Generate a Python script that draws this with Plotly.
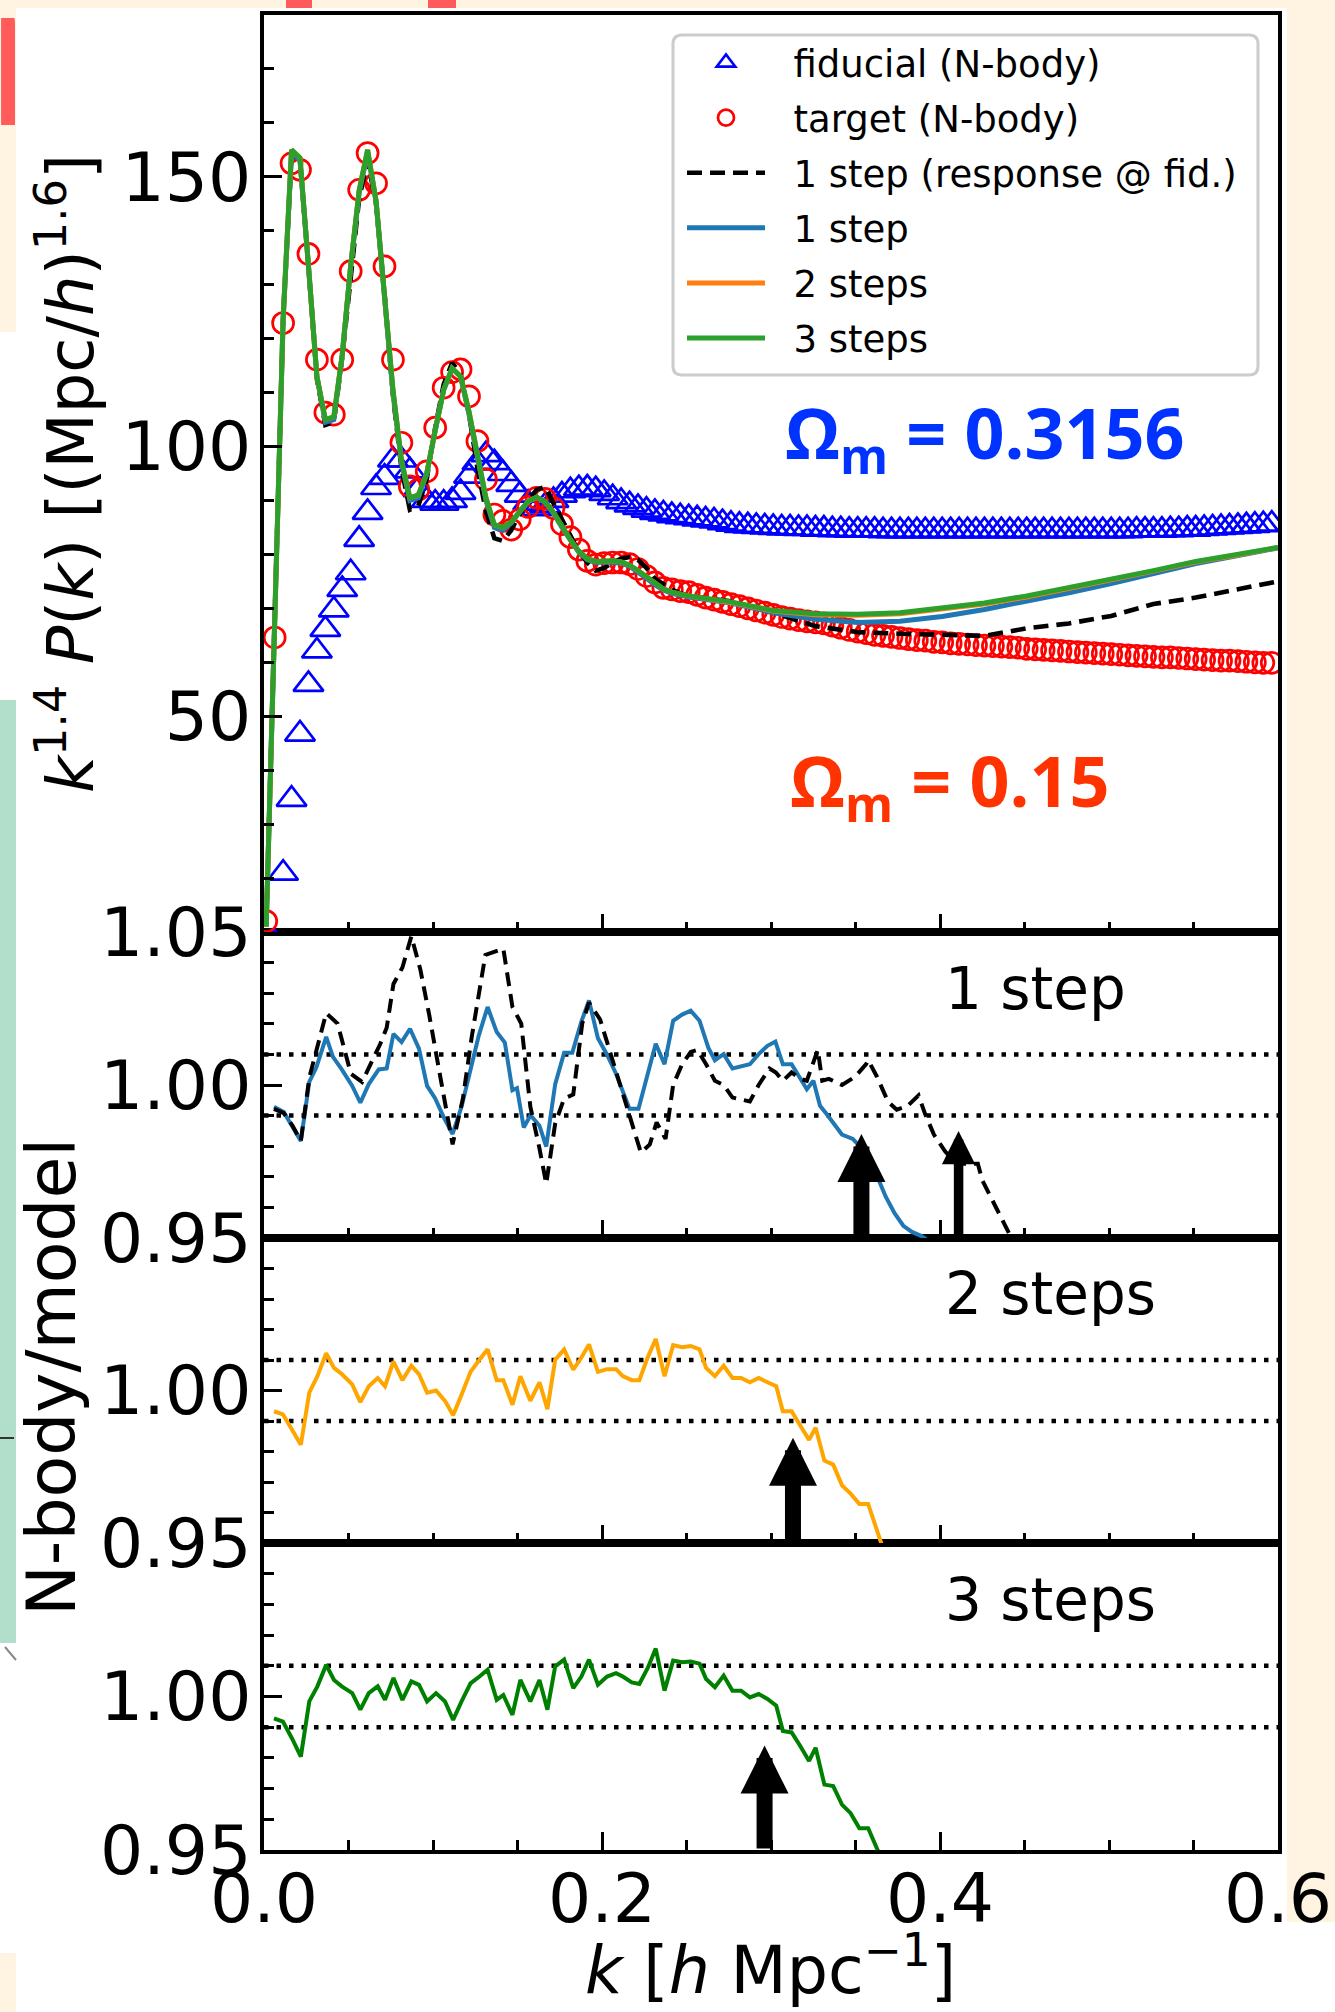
import plotly.graph_objects as go

# ---------------- data ----------------
K_BINS = [0.0013, 0.0063, 0.0113, 0.0163, 0.0213, 0.0263, 0.0313, 0.0363, 0.0413, 0.0463,
          0.0513, 0.0563, 0.0613, 0.0663, 0.0713, 0.0763, 0.0813, 0.0863, 0.0913, 0.0963,
          0.1013, 0.1063, 0.1113, 0.1163, 0.1213, 0.1263, 0.1313, 0.1363, 0.1413, 0.1463,
          0.1513, 0.1563, 0.1613, 0.1663, 0.1713, 0.1763, 0.1813, 0.1863, 0.1913, 0.1963,
          0.2013, 0.2063, 0.2113, 0.2163, 0.2213, 0.2263, 0.2313, 0.2363, 0.2413, 0.2463,
          0.2513, 0.2563, 0.2613, 0.2663, 0.2713, 0.2763, 0.2813, 0.2863, 0.2913, 0.2963,
          0.3013, 0.3063, 0.3113, 0.3163, 0.3213, 0.3263, 0.3313, 0.3363, 0.3413, 0.3463,
          0.3513, 0.3563, 0.3613, 0.3663, 0.3713, 0.3763, 0.3813, 0.3863, 0.3913, 0.3963,
          0.4013, 0.4063, 0.4113, 0.4163, 0.4213, 0.4263, 0.4313, 0.4363, 0.4413, 0.4463,
          0.4513, 0.4563, 0.4613, 0.4663, 0.4713, 0.4763, 0.4813, 0.4863, 0.4913, 0.4963,
          0.5013, 0.5063, 0.5113, 0.5163, 0.5213, 0.5263, 0.5313, 0.5363, 0.5413, 0.5463,
          0.5513, 0.5563, 0.5613, 0.5663, 0.5713, 0.5763, 0.5813, 0.5863, 0.5913, 0.5963]

FIDUCIAL = [3.0, 8.0, 20.9, 34.6, 46.7, 55.9, 62.1, 66.1, 69.7, 73.5,
            76.6, 82.8, 87.8, 92.4, 94.3, 97.5, 97.5, 95.5, 92.0, 90.0,
            89.5, 89.5, 90.0, 91.5, 94.5, 97.0, 98.5, 97.0, 95.0, 93.0,
            91.0, 89.5, 88.5, 89.0, 90.0, 91.0, 91.8, 92.2, 92.3, 92.0,
            91.3, 90.5, 89.8, 89.2, 88.7, 88.2, 87.8, 87.5, 87.2, 87.0,
            86.8, 86.6, 86.4, 86.2, 85.9, 85.6, 85.4, 85.3, 85.2, 85.1,
            85.0, 84.9, 84.9, 84.8, 84.8, 84.7, 84.7, 84.6, 84.6, 84.5,
            84.5, 84.5, 84.5, 84.4, 84.4, 84.4, 84.4, 84.4, 84.4, 84.4,
            84.4, 84.4, 84.4, 84.4, 84.4, 84.4, 84.4, 84.4, 84.4, 84.4,
            84.4, 84.4, 84.4, 84.4, 84.4, 84.4, 84.4, 84.4, 84.4, 84.4,
            84.4, 84.4, 84.4, 84.5, 84.5, 84.5, 84.5, 84.6, 84.6, 84.7,
            84.7, 84.8, 84.9, 85.0, 85.1, 85.2, 85.3, 85.4, 85.5, 85.6]

TARGET = [12.0, 64.6, 122.9, 152.5, 151.3, 135.7, 116.1, 106.3, 105.9, 116.1,
          132.5, 147.6, 154.4, 148.8, 133.4, 116.1, 100.7, 92.6, 92.0, 95.4,
          103.5, 110.9, 113.8, 114.3, 109.3, 101.0, 93.9, 87.4, 86.2, 84.6,
          86.5, 88.8, 90.5, 90.3, 88.6, 85.6, 83.2, 80.9, 78.8, 78.1,
          78.4, 78.5, 78.5, 78.2, 77.3, 76.0, 74.8, 73.8, 73.5, 73.2,
          73.0, 72.5, 72.0, 71.6, 71.2, 70.8, 70.4, 70.0, 69.6, 69.2,
          68.8, 68.4, 68.1, 67.8, 67.6, 67.4, 67.2, 66.8, 66.4, 66.0,
          65.7, 65.4, 65.1, 64.9, 64.7, 64.5, 64.3, 64.1, 64.0, 63.8,
          63.7, 63.5, 63.4, 63.3, 63.2, 63.1, 63.0, 62.9, 62.8, 62.7,
          62.5, 62.4, 62.3, 62.2, 62.1, 62.0, 61.9, 61.8, 61.7, 61.6,
          61.5, 61.4, 61.3, 61.2, 61.1, 61.0, 60.9, 60.9, 60.8, 60.7,
          60.6, 60.5, 60.4, 60.3, 60.3, 60.2, 60.1, 60.0, 59.9, 59.9]

K_TAIL = [0.2763, 0.3013, 0.3263, 0.3513, 0.3763, 0.4013, 0.4263, 0.4513, 0.4763,
          0.5013, 0.5263, 0.5513, 0.5763, 0.6]
K_MODEL = K_BINS[:51] + K_TAIL

RESP_FID = [11.5, 64.5, 123.5, 154.0, 153.0, 133.5, 112.5, 104.0, 104.5, 116.5,
            132.0, 146.0, 153.0, 145.0, 128.5, 109.5, 96.0, 88.3, 89.0, 94.0,
            103.5, 111.5, 115.5, 113.5, 106.0, 96.0, 88.0, 83.0, 82.5, 84.5,
            87.5, 90.0, 92.0, 92.5, 89.5, 86.5, 83.5, 80.5, 78.5, 77.0,
            77.5, 78.5, 79.2, 79.5, 79.0, 77.5, 75.5, 74.5, 73.5, 72.8,
            72.3, 71.3, 69.2, 66.7, 65.6, 65.3, 65.1, 64.9, 66.3, 67.2,
            68.6, 70.8, 72.0, 73.6, 75.0]

STEP1 = [11.0, 64.5, 123.5, 154.5, 153.0, 133.5, 113.0, 104.5, 105.0, 117.0,
         133.5, 147.0, 154.5, 145.5, 128.5, 110.0, 97.0, 90.0, 90.5, 95.0,
         103.0, 110.5, 114.5, 113.0, 106.0, 97.5, 90.0, 85.0, 84.5, 85.8,
         88.0, 89.8, 90.6, 89.6, 87.6, 85.0, 82.5, 80.4, 79.0, 78.5,
         78.6, 78.6, 78.4, 77.8, 76.8, 75.6, 74.4, 73.4, 72.8, 72.4,
         72.1, 71.0, 69.2, 68.0, 67.4, 67.6, 68.5, 69.8, 71.3, 72.9,
         74.6, 76.5, 78.3, 79.8, 81.2]

STEP2 = [11.0, 64.5, 123.5, 155.0, 153.5, 133.5, 113.0, 105.0, 105.5, 117.0,
         133.5, 147.5, 155.0, 145.5, 128.5, 110.5, 97.5, 90.5, 91.0, 95.0,
         103.0, 110.5, 114.5, 113.0, 106.5, 98.0, 90.5, 85.5, 85.0, 86.0,
         88.0, 89.8, 90.6, 89.8, 87.8, 85.2, 82.7, 80.6, 79.2, 78.7,
         78.8, 78.8, 78.6, 78.0, 77.0, 75.8, 74.6, 73.6, 73.0, 72.6,
         72.3, 71.1, 69.5, 68.8, 68.7, 69.0, 69.8, 70.8, 72.1, 73.6,
         75.3, 76.9, 78.6, 79.9, 81.3]

STEP3 = [11.0, 64.5, 123.5, 155.0, 153.5, 133.5, 113.0, 105.0, 105.5, 117.0,
         133.5, 147.5, 155.0, 145.5, 128.5, 110.5, 97.5, 90.5, 91.0, 95.0,
         103.0, 110.5, 114.5, 113.0, 106.5, 98.0, 90.5, 85.5, 85.0, 86.0,
         88.0, 89.8, 90.6, 89.8, 87.8, 85.2, 82.7, 80.6, 79.2, 78.7,
         78.8, 78.8, 78.6, 78.0, 77.0, 75.8, 74.6, 73.6, 73.0, 72.6,
         72.3, 71.2, 69.6, 69.0, 68.9, 69.2, 70.0, 71.0, 72.3, 73.8,
         75.5, 77.0, 78.7, 80.0, 81.3]

# ratio N-body / model, 1 step
R1_K = [0.0059, 0.0117, 0.0157, 0.0218, 0.0268, 0.031, 0.0368, 0.0408, 0.046, 0.0522,
        0.057, 0.062, 0.0679, 0.0726, 0.0766, 0.0814, 0.0864, 0.0917, 0.0965, 0.1013,
        0.1063, 0.1116, 0.1169, 0.1217, 0.127, 0.1323, 0.1377, 0.1425, 0.147, 0.1497,
        0.1537, 0.1577, 0.163, 0.167, 0.1723, 0.1776, 0.1824, 0.1878, 0.1923, 0.1976,
        0.203, 0.2083, 0.2123, 0.2163, 0.2216, 0.227, 0.2318, 0.237, 0.2421, 0.2474,
        0.2525, 0.2577, 0.2629, 0.2668, 0.272, 0.2772, 0.2823, 0.2875, 0.2927, 0.2979,
        0.3026, 0.307, 0.3122, 0.3173, 0.3212, 0.3251, 0.329, 0.3329, 0.342, 0.3484,
        0.3575, 0.3627, 0.3679, 0.3731, 0.3783, 0.3834, 0.3887, 0.392]
R1_V = [0.9929, 0.9912, 0.9874, 0.9817, 1.001, 1.0058, 1.0157, 1.0092, 1.0051, 0.9997,
        0.9942, 1.0003, 1.0051, 1.0054, 1.0167, 1.014, 1.0184, 1.0119, 0.9997, 0.9956,
        0.9895, 0.984, 0.9929, 1.0037, 1.016, 1.0255, 1.0173, 1.0139, 0.9983, 0.999,
        0.9861, 0.9901, 0.9867, 0.9799, 1.0003, 1.0105, 1.0105, 1.0207, 1.0276, 1.0153,
        1.0099, 1.0037, 0.9983, 0.9922, 0.9922, 1.0031, 1.0135, 1.0068, 1.021, 1.023,
        1.0243, 1.021, 1.0122, 1.0081, 1.0101, 1.0054, 1.0061, 1.0068, 1.0101, 1.0128,
        1.0142, 1.0068, 1.0068, 1.002, 0.9986, 1.0014, 0.9932, 0.9905, 0.9838, 0.9824,
        0.977, 0.9703, 0.9635, 0.9581, 0.954, 0.952, 0.9507, 0.9495]

# ratio N-body / model, 1 step (response @ fid.)
R1D_K = [0.0059, 0.0117, 0.0169, 0.0218, 0.0268, 0.0368, 0.0435, 0.0514, 0.058, 0.0687,
         0.0726, 0.0766, 0.0819, 0.0872, 0.0925, 0.0978, 0.1044, 0.1116, 0.1177, 0.123,
         0.131, 0.1416, 0.147, 0.1522, 0.1576, 0.163, 0.167, 0.1723, 0.1776, 0.183,
         0.1883, 0.1923, 0.1989, 0.203, 0.2083, 0.2123, 0.2176, 0.223, 0.2283, 0.2323,
         0.2376, 0.2421, 0.2474, 0.2525, 0.2564, 0.2616, 0.2668, 0.272, 0.2772, 0.2875,
         0.2927, 0.2991, 0.3029, 0.307, 0.3122, 0.3173, 0.3212, 0.3277, 0.3303, 0.3342,
         0.342, 0.3497, 0.3563, 0.3575, 0.3627, 0.3692, 0.3744, 0.3809, 0.3873, 0.3912,
         0.3964, 0.4029, 0.4094, 0.4224, 0.425, 0.4353, 0.4418, 0.445]
R1D_V = [0.9922, 0.9908, 0.9867, 0.9817, 1.0024, 1.0235, 1.0201, 1.0037, 1.001, 1.0133,
         1.0187, 1.033, 1.0384, 1.0486, 1.0378, 1.0228, 1.0024, 0.9806, 0.9956, 1.016,
         1.0425, 1.0446, 1.0255, 1.0201, 0.9929, 0.9793, 0.9677, 0.9874, 0.9956, 0.9969,
         1.0201, 1.0269, 1.0214, 1.0139, 1.0037, 0.9969, 0.9874, 0.9779, 0.9806, 0.9878,
         0.9824, 1.0, 1.0068, 1.0108, 1.0115, 1.0068, 1.0014, 1.0, 0.9959, 0.9946,
         1.0, 1.0054, 1.0041, 1.0014, 1.0041, 1.002, 1.0014, 1.0115, 1.0014, 1.002,
         1.0, 1.0027, 1.0068, 1.0081, 1.0027, 0.9946, 0.9919, 0.9932, 0.9966, 0.9905,
         0.9838, 0.9784, 0.9743, 0.9743, 0.9689, 0.958, 0.9507, 0.947]

# ratio, 2 steps and 3 steps
R23_K = [0.0059, 0.0112, 0.0165, 0.0218, 0.0268, 0.0316, 0.0368, 0.0414, 0.046, 0.0522,
         0.057, 0.062, 0.0673, 0.0716, 0.0766, 0.0819, 0.0872, 0.0917, 0.0965, 0.1018,
         0.1071, 0.1119, 0.1169, 0.1222, 0.1275, 0.1323, 0.1377, 0.1416, 0.147, 0.1517,
         0.1576, 0.163, 0.1677, 0.1723, 0.1776, 0.183, 0.1878, 0.1923, 0.1976, 0.203,
         0.2083, 0.2123, 0.2176, 0.2221, 0.227, 0.2318, 0.237, 0.2421, 0.2474, 0.2525,
         0.2577, 0.2616, 0.2668, 0.272, 0.2772, 0.2823, 0.2875, 0.2927, 0.2979, 0.3031,
         0.307, 0.3122, 0.3173, 0.3225, 0.3264, 0.3316, 0.3368, 0.342, 0.3471, 0.3523,
         0.3575, 0.3614, 0.3653, 0.367]
R2_V = [0.9932, 0.9922, 0.9872, 0.9822, 0.9993, 1.0047, 1.0122, 1.0074, 1.0054, 1.002,
        0.9962, 1.0014, 1.0041, 1.0014, 1.0095, 1.0034, 1.0081, 1.0054, 0.9993, 1.0,
        0.9966, 0.9919, 0.9986, 1.0061, 1.0101, 1.0135, 1.0034, 1.0034, 0.9953, 1.0047,
        0.9966, 1.0027, 0.9939, 1.0101, 1.0135, 1.0068, 1.0108, 1.0151, 1.0061, 1.007,
        1.007, 1.0047, 1.0034, 1.0034, 1.0108, 1.0169, 1.0047, 1.0149, 1.0142, 1.0146,
        1.0135, 1.0074, 1.0047, 1.0081, 1.0041, 1.0041, 1.0027, 1.0041, 1.0027, 1.0014,
        0.9932, 0.9932, 0.9885, 0.9838, 0.9878, 0.977, 0.9757, 0.9689, 0.9662, 0.9628,
        0.9628, 0.9568, 0.95, 0.947]
R3_V = [0.9929, 0.9918, 0.9864, 0.9804, 0.9984, 1.0033, 1.0103, 1.0054, 1.0033, 1.0011,
        0.9957, 1.0011, 1.0033, 0.9989, 1.006, 0.9989, 1.0049, 1.0038, 0.9984, 1.0011,
        0.9984, 0.9924, 0.9984, 1.0043, 1.0065, 1.0087, 0.9989, 1.0005, 0.994, 1.0054,
        0.9984, 1.0054, 0.9957, 1.0098, 1.012, 1.0027, 1.0065, 1.012, 1.0038, 1.0065,
        1.0076, 1.0065, 1.0046, 1.0041, 1.0092, 1.0156, 1.0019, 1.0117, 1.0112, 1.0114,
        1.0107, 1.0057, 1.003, 1.0068, 1.0019, 1.0019, 0.9997, 1.0008, 0.9992, 0.997,
        0.9888, 0.9883, 0.9839, 0.979, 0.9833, 0.9713, 0.9708, 0.9648, 0.962, 0.9571,
        0.9571, 0.952, 0.947, 0.945]

TOL_K = [0.0, 0.6]
TOL_HI = [1.01, 1.01]
TOL_LO = [0.99, 0.99]

# scale-cut arrows: (k, tip value, panel, thick?)
ARROW_K = [0.3535, 0.411, 0.313, 0.2962]
ARROW_TIP = [0.984, 0.985, 0.9845, 0.984]
ARROW_BASE = 0.95
ARROW_PANEL = ['3', '3', '2', '']
ARROW_THICK = [True, False, True, True]

X_TICKS = [0.0, 0.2, 0.4, 0.6]
X_TICKTEXT = ['0.0', '0.2', '0.4', '0.6']

# ---------------- layout helpers (pixel -> paper) ----------------
W, H = 1335, 2012
def fx(px):
    return px / W
def fy(py):
    return 1 - py / H

X_DOM = [fx(264), fx(1278)]
FONT = 'DejaVu Sans'
TICKFONT = dict(family=FONT, size=68, color='black')
NB = '\u00a0\u00a0'

fig = go.Figure()

# ---------------- top panel ----------------
fig.add_trace(go.Scatter(
    x=K_BINS, y=FIDUCIAL, mode='markers', name=NB + 'fiducial (N-body)',
    marker=dict(symbol='triangle-up-open', size=26, color='#0000ff', line=dict(width=2.7)),
    xaxis='x4', yaxis='y4', legendgroup='a'))
fig.add_trace(go.Scatter(
    x=K_BINS, y=TARGET, mode='markers', name=NB + 'target (N-body)',
    marker=dict(symbol='circle-open', size=21, color='#ff0000', line=dict(width=2.7)),
    xaxis='x4', yaxis='y4', legendgroup='b'))
fig.add_trace(go.Scatter(
    x=K_MODEL, y=RESP_FID, mode='lines', name=NB + '1 step (response @ fid.)',
    line=dict(color='black', width=4.6, dash='15px,8px'),
    xaxis='x4', yaxis='y4', legendgroup='c'))
fig.add_trace(go.Scatter(
    x=K_MODEL, y=STEP1, mode='lines', name=NB + '1 step',
    line=dict(color='#1f77b4', width=5), xaxis='x4', yaxis='y4', legendgroup='d'))
fig.add_trace(go.Scatter(
    x=K_MODEL, y=STEP2, mode='lines', name=NB + '2 steps',
    line=dict(color='#ff7f0e', width=5), xaxis='x4', yaxis='y4', legendgroup='e'))
fig.add_trace(go.Scatter(
    x=K_MODEL, y=STEP3, mode='lines', name=NB + '3 steps',
    line=dict(color='#2ca02c', width=5), xaxis='x4', yaxis='y4', legendgroup='f'))

# ---------------- ratio panels ----------------
DOT = '4.5px,8px'
for xa, ya in [('x3', 'y3'), ('x2', 'y2'), ('x', 'y')]:
    for tol in (TOL_HI, TOL_LO):
        fig.add_trace(go.Scatter(x=TOL_K, y=tol, mode='lines', showlegend=False,
                                 line=dict(color='black', width=4.5, dash=DOT),
                                 xaxis=xa, yaxis=ya, hoverinfo='skip'))

fig.add_trace(go.Scatter(x=R1_K, y=R1_V, mode='lines', showlegend=False,
                         line=dict(color='#1f77b4', width=4), xaxis='x3', yaxis='y3'))
fig.add_trace(go.Scatter(x=R1D_K, y=R1D_V, mode='lines', showlegend=False,
                         line=dict(color='black', width=4, dash='14px,8px'),
                         xaxis='x3', yaxis='y3'))
fig.add_trace(go.Scatter(x=R23_K, y=R2_V, mode='lines', showlegend=False,
                         line=dict(color='#ffa500', width=4), xaxis='x2', yaxis='y2'))
fig.add_trace(go.Scatter(x=R23_K, y=R3_V, mode='lines', showlegend=False,
                         line=dict(color='#008000', width=4), xaxis='x', yaxis='y'))

# ---------------- axes ----------------
panels = [
    ('', [fy(1850), fy(1543)], [0.95, 1.05], [0.95, 1.0], ['0.95', '1.00'], 0.01, 0.95, [1.0], True),
    ('2', [fy(1543), fy(1238)], [0.95, 1.05], [0.95, 1.0], ['0.95', '1.00'], 0.01, 0.95, [1.0], False),
    ('3', [fy(1238), fy(932)], [0.95, 1.05], [0.95, 1.0, 1.05], ['0.95', '1.00', '1.05'], 0.01, 0.95, [1.0], False),
    ('4', [fy(932), fy(15)], [10, 180], [50, 100, 150], ['50', '100', '150'], 10, 10, [50, 100, 150], False),
]
layout_axes = {}
for i, (suf, ydom, yr, yv, yt, ydt, yt0, yright, showx) in enumerate(panels):
    n = i + 1
    xref = 'x' + suf
    yref = 'y' + suf
    layout_axes['xaxis' + suf] = dict(
        domain=X_DOM, range=[0, 0.6], anchor=yref, showline=True, linewidth=4,
        linecolor='black', mirror=True, ticks='inside', ticklen=18, tickwidth=2.5,
        tickcolor='black', tickmode='array', tickvals=X_TICKS, ticktext=X_TICKTEXT,
        showticklabels=showx, tickfont=TICKFONT, ticklabelstandoff=-14,
        showgrid=False, zeroline=False, fixedrange=True, automargin=False,
        minor=dict(ticks='inside', ticklen=10, tickwidth=2.5, tickcolor='black',
                   tickmode='linear', tick0=0, dtick=0.05, showgrid=False))
    layout_axes['yaxis' + suf] = dict(
        domain=ydom, range=yr, anchor=xref, showline=True, linewidth=4,
        linecolor='black', mirror=True, ticks='inside', ticklen=18, tickwidth=2.5,
        tickcolor='black', tickmode='array', tickvals=yv, ticktext=yt,
        tickfont=TICKFONT, ticklabelstandoff=-5,
        showgrid=False, zeroline=False, fixedrange=True, automargin=False,
        minor=dict(ticks='inside', ticklen=10, tickwidth=2.5, tickcolor='black',
                   tickmode='linear', tick0=yt0, dtick=ydt, showgrid=False))
    on = str(n + 4)
    layout_axes['xaxis' + on] = dict(
        overlaying=xref, side='top', anchor=yref, range=[0, 0.6], domain=X_DOM,
        ticks='inside', ticklen=18, tickwidth=2.5, tickcolor='black',
        tickmode='array', tickvals=X_TICKS, showticklabels=False, automargin=False,
        showline=False, showgrid=False, zeroline=False, fixedrange=True)
    layout_axes['yaxis' + on] = dict(
        overlaying=yref, side='right', anchor=xref, range=yr, domain=ydom,
        ticks='inside', ticklen=18, tickwidth=2.5, tickcolor='black',
        tickmode='array', tickvals=yright, showticklabels=False, automargin=False,
        showline=False, showgrid=False, zeroline=False, fixedrange=True)

# ---------------- annotations ----------------
ann = []
for k, tip, pan, thick in zip(ARROW_K, ARROW_TIP, ARROW_PANEL, ARROW_THICK):
    ann.append(dict(x=k, y=tip, xref='x' + pan, yref='y' + pan,
                    ax=k, ay=ARROW_BASE, axref='x' + pan, ayref='y' + pan,
                    text='', showarrow=True, arrowhead=2, arrowcolor='black',
                    arrowwidth=16 if thick else 9.5,
                    arrowsize=0.6 if thick else 0.7, standoff=0))

for pan, label in [('3', '1 step'), ('2', '2 steps'), ('', '3 steps')]:
    ann.append(dict(x=0.402, y=1.0315, xref='x' + pan, yref='y' + pan, text=label,
                    showarrow=False, xanchor='left', yanchor='middle',
                    font=dict(family=FONT, size=58, color='black')))

ann.append(dict(x=fx(985), y=fy(436), xref='paper', yref='paper',
                text='<b>Ω<sub>m</sub> = 0.3156</b>', showarrow=False,
                xanchor='center', yanchor='middle',
                font=dict(family='Open Sans', size=70, color='#0033ff')))
ann.append(dict(x=fx(950), y=fy(784), xref='paper', yref='paper',
                text='<b>Ω<sub>m</sub> = 0.15</b>', showarrow=False,
                xanchor='center', yanchor='middle',
                font=dict(family='Open Sans', size=70, color='#ff3300')))

ann.append(dict(x=fx(66), y=fy(474), xref='paper', yref='paper', textangle=-90,
                text='<i>k</i><sup>1.4</sup> <i>P</i>(<i>k</i>) [(Mpc/<i>h</i>)<sup>1.6</sup>]',
                showarrow=False, xanchor='center', yanchor='middle',
                font=dict(family=FONT, size=64, color='black')))
ann.append(dict(x=fx(51), y=fy(1377), xref='paper', yref='paper', textangle=-90,
                text='N-body/model', showarrow=False, xanchor='center', yanchor='middle',
                font=dict(family=FONT, size=68, color='black')))
ann.append(dict(x=fx(770), y=fy(1966), xref='paper', yref='paper',
                text='<i>k</i> [<i>h</i> Mpc<sup>\u22121</sup>]', showarrow=False,
                xanchor='center', yanchor='middle',
                font=dict(family=FONT, size=65, color='black')))

# slide remnant letter at the top-left edge (clipped by its box)
ann.append(dict(x=fx(16), y=fy(48), xref='paper', yref='paper', text='r',
                showarrow=False, xanchor='right', yanchor='middle', width=31,
                align='left', borderpad=0,
                font=dict(family='Open Sans', size=200, color='#ff5b5b')))

# ---------------- background shapes (slide remnants + legend frame) ----------------
BEIGE = '#fff3e1'
shapes = []
def rect(x0, y0, x1, y1, color):
    return dict(type='rect', xref='paper', yref='paper', x0=fx(x0), x1=fx(x1),
                y0=fy(y1), y1=fy(y0), fillcolor=color, line=dict(width=0), layer='below')
shapes.append(rect(0, 0, W, 8, BEIGE))
shapes.append(rect(1287, 0, W, 1922, BEIGE))
shapes.append(rect(0, 0, 16, 332, BEIGE))
shapes.append(rect(0, 700, 16, 1643, '#b2dfcb'))
shapes.append(rect(0, 1953, 16, H, BEIGE))
shapes.append(rect(286, 0, 312, 8, '#ff5b5b'))
shapes.append(rect(428, 0, 456, 8, '#ff5b5b'))
shapes.append(dict(type='line', xref='paper', yref='paper', x0=fx(0), x1=fx(14),
                   y0=fy(1438), y1=fy(1438), line=dict(color='#333333', width=2), layer='below'))
shapes.append(dict(type='line', xref='paper', yref='paper', x0=fx(5), x1=fx(16),
                   y0=fy(1647), y1=fy(1660), line=dict(color='#888888', width=2), layer='below'))

lx0, ly0, lx1, ly1, r = 673, 35, 1258, 375, 9
path = (f'M{fx(lx0 + r)},{fy(ly0)} L{fx(lx1 - r)},{fy(ly0)} Q{fx(lx1)},{fy(ly0)} {fx(lx1)},{fy(ly0 + r)} '
        f'L{fx(lx1)},{fy(ly1 - r)} Q{fx(lx1)},{fy(ly1)} {fx(lx1 - r)},{fy(ly1)} '
        f'L{fx(lx0 + r)},{fy(ly1)} Q{fx(lx0)},{fy(ly1)} {fx(lx0)},{fy(ly1 - r)} '
        f'L{fx(lx0)},{fy(ly0 + r)} Q{fx(lx0)},{fy(ly0)} {fx(lx0 + r)},{fy(ly0)} Z')
shapes.append(dict(type='path', xref='paper', yref='paper', path=path,
                   fillcolor='white', line=dict(color='#cccccc', width=3), layer='below'))

fig.update_layout(
    width=W, height=H, margin=dict(l=0, r=0, t=0, b=0, pad=0, autoexpand=False),
    paper_bgcolor='white', plot_bgcolor='rgba(0,0,0,0)',
    font=dict(family=FONT, color='black'),
    showlegend=True,
    legend=dict(x=fx(682), y=fy(32), xanchor='left', yanchor='top',
                font=dict(family=FONT, size=37, color='black'),
                bgcolor='rgba(0,0,0,0)', borderwidth=0, itemwidth=78,
                traceorder='grouped', tracegroupgap=4, valign='middle'),
    annotations=ann, shapes=shapes,
    **layout_axes)

fig.write_html('out.html')
